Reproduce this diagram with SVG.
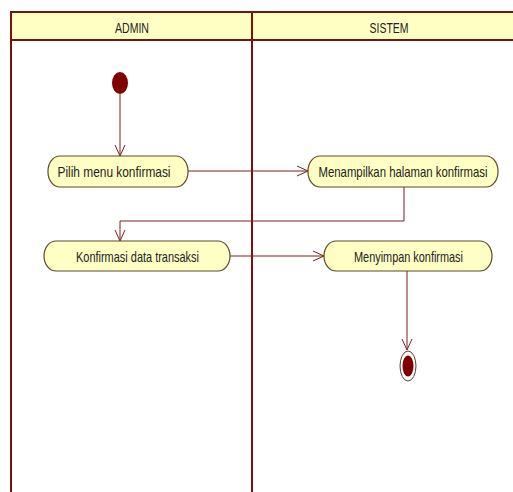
<svg xmlns="http://www.w3.org/2000/svg" width="513" height="492" viewBox="0 0 513 492">
<style>
.lane{fill:none;stroke:#7a1010;stroke-width:2}
.hdr{fill:#FFFFC4;stroke:#6a1a10;stroke-width:2}
.act{fill:#FFFFC4;stroke:#5e4a2a;stroke-width:1.2}
.t{font-family:"Liberation Sans",Arial,sans-serif;font-size:15px;fill:#222;text-anchor:middle}
.c{fill:none;stroke:#7a2020;stroke-width:1}
</style>
<defs>
<marker id="arr" viewBox="0 0 12 12" refX="11" refY="6" markerWidth="12" markerHeight="12" markerUnits="userSpaceOnUse" orient="auto">
<path d="M0,1 L11,6 L0,11" fill="none" stroke="#7a2020" stroke-width="1"/>
</marker>
</defs>
<rect width="513" height="492" fill="#fff"/>
<g id="lanes">
<rect class="hdr" x="11" y="12" width="510" height="28"/>
<line class="lane" x1="11" y1="12" x2="11" y2="492"/>
<line class="lane" x1="252" y1="12" x2="252" y2="492"/>
<text class="t" x="132" y="33" textLength="34" lengthAdjust="spacingAndGlyphs">ADMIN</text>
<text class="t" x="389" y="33" textLength="39" lengthAdjust="spacingAndGlyphs">SISTEM</text>
</g>
<g id="connectors">
<line class="c" x1="120" y1="94" x2="120" y2="156" marker-end="url(#arr)"/>
<line class="c" x1="188" y1="171" x2="308" y2="171" marker-end="url(#arr)"/>
<polyline class="c" points="404,187 404,221 120,221 120,241" marker-end="url(#arr)"/>
<line class="c" x1="230" y1="256" x2="324" y2="256" marker-end="url(#arr)"/>
<line class="c" x1="407" y1="271" x2="407" y2="350" marker-end="url(#arr)"/>
</g>
<g id="start">
<ellipse cx="120" cy="83" rx="8" ry="11" fill="#800000"/>
</g>
<g id="a1">
<rect class="act" x="48" y="156" width="140" height="31" rx="12" ry="15"/>
<text class="t" x="114" y="177" textLength="113" lengthAdjust="spacingAndGlyphs">Pilih menu konfirmasi</text>
</g>
<g id="a2">
<rect class="act" x="308" y="156" width="190" height="31" rx="12" ry="15"/>
<text class="t" x="403" y="177" textLength="169" lengthAdjust="spacingAndGlyphs">Menampilkan halaman konfirmasi</text>
</g>
<g id="a3">
<rect class="act" x="44" y="241" width="186" height="30" rx="12" ry="15"/>
<text class="t" x="137.5" y="261.5" textLength="123" lengthAdjust="spacingAndGlyphs">Konfirmasi data transaksi</text>
</g>
<g id="a4">
<rect class="act" x="324" y="241" width="168" height="30" rx="12" ry="15"/>
<text class="t" x="408.5" y="261.5" textLength="109" lengthAdjust="spacingAndGlyphs">Menyimpan konfirmasi</text>
</g>
<g id="end">
<ellipse cx="408" cy="366" rx="8" ry="15" fill="#fff" stroke="#5e3a2a" stroke-width="1"/>
<ellipse cx="408" cy="366" rx="5.5" ry="10.5" fill="#800000"/>
</g>
</svg>
